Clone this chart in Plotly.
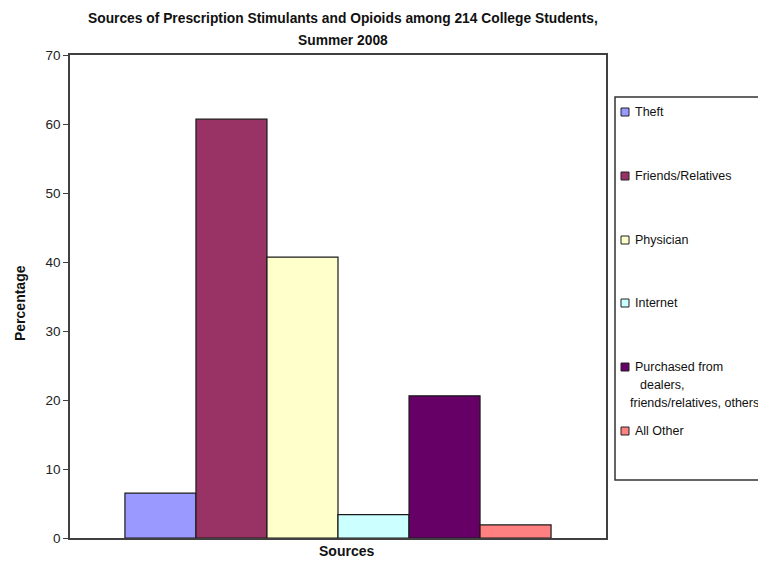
import plotly.graph_objects as go

# Data
categories = ["Sources"]
sources = [
    "Theft",
    "Friends/Relatives",
    "Physician",
    "Internet",
    "Purchased from<br>dealers,<br>friends/relatives, others",
    "All Other",
]
percentages = [6.5, 60.7, 40.7, 3.4, 20.6, 1.9]
colors = ["#9999FF", "#993366", "#FFFFCC", "#CCFFFF", "#660066", "#FF8080"]
title_lines = [
    "Sources of Prescription Stimulants and Opioids among 214 College Students,",
    "Summer 2008",
]
y_ticks = [0, 10, 20, 30, 40, 50, 60, 70]

FONT = "Liberation Sans, Arial, sans-serif"
W, H = 758, 564
L, R, T, B = 70, 152, 55, 26
PW, PH = W - L - R, H - T - B


def px_x(x):
    return (x - L) / PW


def px_y(y):
    return (H - B - y) / PH


fig = go.Figure()
for name, val, col in zip(sources, percentages, colors):
    fig.add_trace(go.Bar(
        x=categories, y=[val], name=name.replace("<br>", " "),
        marker=dict(color=col, line=dict(color="#1a1a1a", width=1.2)),
        showlegend=False, hoverinfo="name+y",
    ))

annotations = []
# Title
for text, ypix in zip(title_lines, [18, 40]):
    annotations.append(dict(
        text=f"<b>{text}</b>", x=px_x(343), y=px_y(ypix), xref="paper", yref="paper",
        showarrow=False, xanchor="center", yanchor="middle",
        font=dict(family=FONT, size=13.8, color="#111"),
    ))
# Axis titles
annotations.append(dict(
    text="<b>Percentage</b>", x=px_x(20), y=px_y(303), xref="paper", yref="paper",
    showarrow=False, textangle=-90, xanchor="center", yanchor="middle",
    font=dict(family=FONT, size=14, color="#111"),
))
annotations.append(dict(
    text=f"<b>{categories[0]}</b>", x=px_x(346), y=px_y(551), xref="paper", yref="paper",
    showarrow=False, xanchor="center", yanchor="middle",
    font=dict(family=FONT, size=14, color="#111"),
))

shapes = []
# Legend box
shapes.append(dict(
    type="rect", xref="paper", yref="paper",
    x0=px_x(615), x1=px_x(780), y0=px_y(480), y1=px_y(97),
    line=dict(color="#333", width=1.5), fillcolor="white", layer="above",
))
item_y = [112, 176, 240, 303, 367, 431]
wrap_x = [633, 638, 628]
for name, col, yc in zip(sources, colors, item_y):
    shapes.append(dict(
        type="rect", xref="paper", yref="paper",
        x0=px_x(621), x1=px_x(629), y0=px_y(yc + 4), y1=px_y(yc - 4),
        line=dict(color="#222", width=1), fillcolor=col, layer="above",
    ))
    for i, line in enumerate(name.split("<br>")):
        annotations.append(dict(
            text=line, x=px_x(wrap_x[i]), y=px_y(yc + 18 * i), xref="paper", yref="paper",
            showarrow=False, xanchor="left", yanchor="middle", align="left",
            font=dict(family=FONT, size=12.5, color="#111"),
        ))

fig.update_layout(
    width=W, height=H,
    margin=dict(l=L, r=R, t=T, b=B, autoexpand=False),
    paper_bgcolor="white", plot_bgcolor="white",
    barmode="group", bargap=0.205, bargroupgap=0,
    font=dict(family=FONT, size=13, color="#222"),
    xaxis=dict(
        type="category", showline=True, linecolor="#404040", linewidth=1.5, mirror=True,
        ticks="", showgrid=False, showticklabels=False,
    ),
    yaxis=dict(
        range=[0, 70], tickvals=y_ticks, showline=True, linecolor="#404040", linewidth=1.5,
        mirror=True, ticks="outside", ticklen=5, tickcolor="#404040", showgrid=False,
        zeroline=False, tickfont=dict(family=FONT, size=13.5, color="#222"),
    ),
    annotations=annotations, shapes=shapes,
)

fig.write_html("out.html")
